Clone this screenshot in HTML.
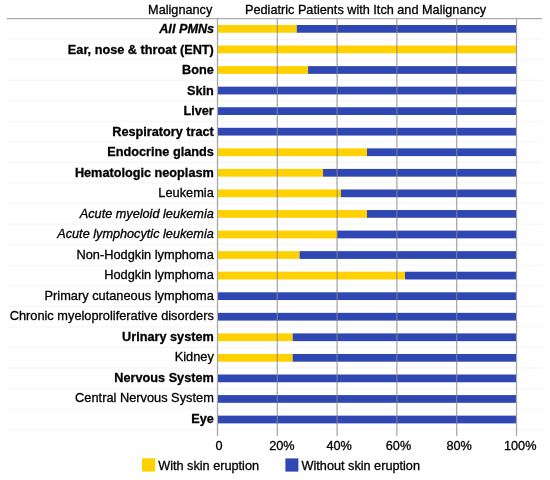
<!DOCTYPE html>
<html><head><meta charset="utf-8"><title>Pediatric Patients with Itch and Malignancy</title>
<style>
html,body{margin:0;padding:0;background:#fff;}
body{width:550px;height:480px;overflow:hidden;font-family:"Liberation Sans",sans-serif;}
svg{display:block;will-change:transform;}
text{font-family:"Liberation Sans",sans-serif;font-size:12.7px;fill:#000;stroke:#000;stroke-width:0.3px;}
.b{font-weight:bold;}
.i{font-style:italic;}
.bi{font-weight:bold;font-style:italic;}
</style></head><body>
<svg width="550" height="480" viewBox="0 0 550 480">
<rect width="550" height="480" fill="#fff"/>
<line x1="7" x2="542.5" y1="39.06" y2="39.06" stroke="#f5f5f5" stroke-width="1"/>
<line x1="7" x2="542.5" y1="59.62" y2="59.62" stroke="#f5f5f5" stroke-width="1"/>
<line x1="7" x2="542.5" y1="80.18" y2="80.18" stroke="#f5f5f5" stroke-width="1"/>
<line x1="7" x2="542.5" y1="100.74" y2="100.74" stroke="#f5f5f5" stroke-width="1"/>
<line x1="7" x2="542.5" y1="121.30" y2="121.30" stroke="#f5f5f5" stroke-width="1"/>
<line x1="7" x2="542.5" y1="141.86" y2="141.86" stroke="#f5f5f5" stroke-width="1"/>
<line x1="7" x2="542.5" y1="162.42" y2="162.42" stroke="#f5f5f5" stroke-width="1"/>
<line x1="7" x2="542.5" y1="182.98" y2="182.98" stroke="#f5f5f5" stroke-width="1"/>
<line x1="7" x2="542.5" y1="203.54" y2="203.54" stroke="#f5f5f5" stroke-width="1"/>
<line x1="7" x2="542.5" y1="224.10" y2="224.10" stroke="#f5f5f5" stroke-width="1"/>
<line x1="7" x2="542.5" y1="244.66" y2="244.66" stroke="#f5f5f5" stroke-width="1"/>
<line x1="7" x2="542.5" y1="265.22" y2="265.22" stroke="#f5f5f5" stroke-width="1"/>
<line x1="7" x2="542.5" y1="285.78" y2="285.78" stroke="#f5f5f5" stroke-width="1"/>
<line x1="7" x2="542.5" y1="306.34" y2="306.34" stroke="#f5f5f5" stroke-width="1"/>
<line x1="7" x2="542.5" y1="326.90" y2="326.90" stroke="#f5f5f5" stroke-width="1"/>
<line x1="7" x2="542.5" y1="347.46" y2="347.46" stroke="#f5f5f5" stroke-width="1"/>
<line x1="7" x2="542.5" y1="368.02" y2="368.02" stroke="#f5f5f5" stroke-width="1"/>
<line x1="7" x2="542.5" y1="388.58" y2="388.58" stroke="#f5f5f5" stroke-width="1"/>
<line x1="7" x2="542.5" y1="409.14" y2="409.14" stroke="#f5f5f5" stroke-width="1"/>
<line x1="7" x2="542.5" y1="429.70" y2="429.70" stroke="#f5f5f5" stroke-width="1"/>
<rect x="218.00" y="25.00" width="78.74" height="7.75" fill="#ffd100"/>
<rect x="296.74" y="25.00" width="219.26" height="7.75" fill="#2f47b3"/>
<rect x="218.00" y="45.56" width="298.50" height="7.75" fill="#ffd100"/>
<rect x="218.00" y="66.12" width="90.10" height="7.75" fill="#ffd100"/>
<rect x="308.10" y="66.12" width="207.90" height="7.75" fill="#2f47b3"/>
<rect x="218.00" y="86.68" width="298.00" height="7.75" fill="#2f47b3"/>
<rect x="218.00" y="107.24" width="298.00" height="7.75" fill="#2f47b3"/>
<rect x="218.00" y="127.80" width="298.00" height="7.75" fill="#2f47b3"/>
<rect x="218.00" y="148.36" width="149.00" height="7.75" fill="#ffd100"/>
<rect x="367.00" y="148.36" width="149.00" height="7.75" fill="#2f47b3"/>
<rect x="218.00" y="168.92" width="105.05" height="7.75" fill="#ffd100"/>
<rect x="323.05" y="168.92" width="192.95" height="7.75" fill="#2f47b3"/>
<rect x="218.00" y="189.48" width="122.99" height="7.75" fill="#ffd100"/>
<rect x="340.99" y="189.48" width="175.01" height="7.75" fill="#2f47b3"/>
<rect x="218.00" y="210.04" width="149.00" height="7.75" fill="#ffd100"/>
<rect x="367.00" y="210.04" width="149.00" height="7.75" fill="#2f47b3"/>
<rect x="218.00" y="230.60" width="119.10" height="7.75" fill="#ffd100"/>
<rect x="337.10" y="230.60" width="178.90" height="7.75" fill="#2f47b3"/>
<rect x="218.00" y="251.16" width="81.58" height="7.75" fill="#ffd100"/>
<rect x="299.58" y="251.16" width="216.42" height="7.75" fill="#2f47b3"/>
<rect x="218.00" y="271.72" width="186.97" height="7.75" fill="#ffd100"/>
<rect x="404.97" y="271.72" width="111.03" height="7.75" fill="#2f47b3"/>
<rect x="218.00" y="292.28" width="298.00" height="7.75" fill="#2f47b3"/>
<rect x="218.00" y="312.84" width="298.00" height="7.75" fill="#2f47b3"/>
<rect x="218.00" y="333.40" width="74.70" height="7.75" fill="#ffd100"/>
<rect x="292.70" y="333.40" width="223.30" height="7.75" fill="#2f47b3"/>
<rect x="218.00" y="353.96" width="74.70" height="7.75" fill="#ffd100"/>
<rect x="292.70" y="353.96" width="223.30" height="7.75" fill="#2f47b3"/>
<rect x="218.00" y="374.52" width="298.00" height="7.75" fill="#2f47b3"/>
<rect x="218.00" y="395.08" width="298.00" height="7.75" fill="#2f47b3"/>
<rect x="218.00" y="415.64" width="298.00" height="7.75" fill="#2f47b3"/>
<line x1="217.50" x2="217.50" y1="18.5" y2="436" stroke="#888" stroke-opacity="0.72" stroke-width="1.3"/>
<line x1="277.30" x2="277.30" y1="18.5" y2="436" stroke="#888" stroke-opacity="0.72" stroke-width="1.3"/>
<line x1="337.10" x2="337.10" y1="18.5" y2="436" stroke="#888" stroke-opacity="0.72" stroke-width="1.3"/>
<line x1="396.90" x2="396.90" y1="18.5" y2="436" stroke="#888" stroke-opacity="0.72" stroke-width="1.3"/>
<line x1="456.70" x2="456.70" y1="18.5" y2="436" stroke="#888" stroke-opacity="0.72" stroke-width="1.3"/>
<line x1="516.50" x2="516.50" y1="18.5" y2="436" stroke="#888" stroke-opacity="0.72" stroke-width="1.3"/>
<line x1="6.5" x2="542" y1="18.7" y2="18.7" stroke="#999" stroke-width="1"/>
<text x="214.2" y="33.40" text-anchor="end" class="bi" style="font-size:12.7px">All PMNs</text>
<text x="213.8" y="53.88" text-anchor="end" class="b" style="font-size:12.7px">Ear, nose &amp; throat (ENT)</text>
<text x="213.8" y="74.37" text-anchor="end" class="b" style="font-size:12.7px">Bone</text>
<text x="213.8" y="94.85" text-anchor="end" class="b" style="font-size:12.7px">Skin</text>
<text x="213.8" y="115.34" text-anchor="end" class="b" style="font-size:12.7px">Liver</text>
<text x="213.8" y="135.82" text-anchor="end" class="b" style="font-size:12.7px">Respiratory tract</text>
<text x="213.8" y="156.31" text-anchor="end" class="b" style="font-size:12.7px">Endocrine glands</text>
<text x="213.8" y="176.79" text-anchor="end" class="b" style="font-size:12.7px">Hematologic neoplasm</text>
<text x="213.8" y="197.28" text-anchor="end" style="font-size:12.8px">Leukemia</text>
<text x="213.8" y="217.77" text-anchor="end" class="i" style="font-size:12.7px">Acute myeloid leukemia</text>
<text x="213.8" y="238.25" text-anchor="end" class="i" style="font-size:12.7px">Acute lymphocytic leukemia</text>
<text x="213.8" y="258.73" text-anchor="end" style="font-size:12.8px">Non-Hodgkin lymphoma</text>
<text x="213.8" y="279.22" text-anchor="end" style="font-size:12.8px">Hodgkin lymphoma</text>
<text x="213.8" y="299.70" text-anchor="end" style="font-size:12.8px">Primary cutaneous lymphoma</text>
<text x="213.8" y="320.19" text-anchor="end" style="font-size:12.8px">Chronic myeloproliferative disorders</text>
<text x="213.8" y="340.67" text-anchor="end" class="b" style="font-size:12.7px">Urinary system</text>
<text x="213.8" y="361.16" text-anchor="end" style="font-size:12.8px">Kidney</text>
<text x="213.8" y="381.64" text-anchor="end" class="b" style="font-size:12.7px">Nervous System</text>
<text x="213.8" y="402.13" text-anchor="end" style="font-size:12.8px">Central Nervous System</text>
<text x="213.8" y="422.61" text-anchor="end" class="b" style="font-size:12.7px">Eye</text>
<text x="212.3" y="14" text-anchor="end">Malignancy</text>
<text x="245" y="14">Pediatric Patients with Itch and Malignancy</text>
<text x="215.50" y="450">0</text>
<text x="269.20" y="450">20%</text>
<text x="326.40" y="450">40%</text>
<text x="385.80" y="450">60%</text>
<text x="446.40" y="450">80%</text>
<text x="504.00" y="450">100%</text>
<rect x="142" y="458.3" width="13.2" height="13.3" fill="#ffd100"/>
<text x="158.2" y="470.1">With skin eruption</text>
<rect x="285.4" y="458.4" width="13" height="13.2" fill="#2f47b3"/>
<text x="301.5" y="470.1">Without skin eruption</text>
</svg></body></html>
